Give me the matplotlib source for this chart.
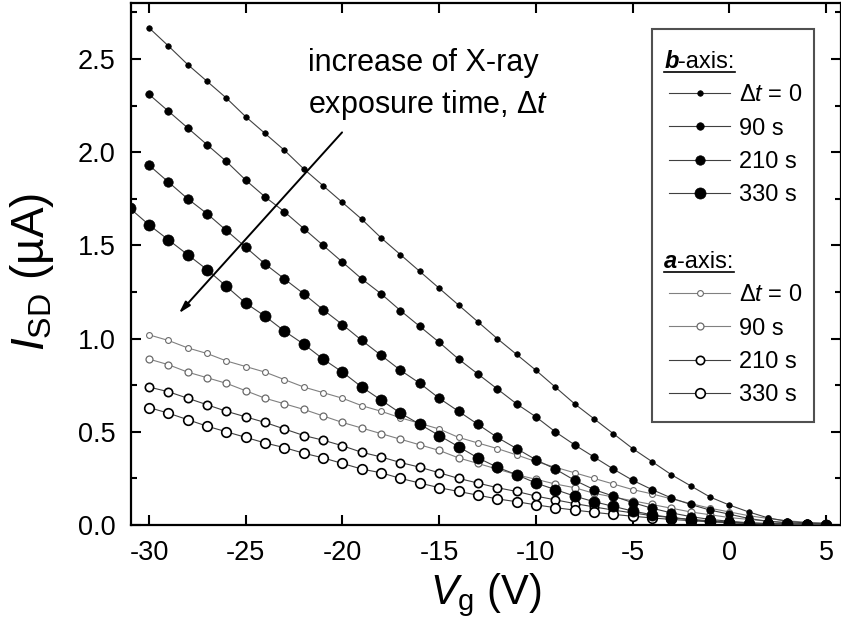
import matplotlib
matplotlib.use('Agg')
import matplotlib.pyplot as plt
from matplotlib.lines import Line2D
from matplotlib.patches import Rectangle
from matplotlib.transforms import IdentityTransform

plt.rcParams['font.family'] = ['Liberation Sans', 'DejaVu Sans']
plt.rcParams['mathtext.fontset'] = 'custom'
plt.rcParams['mathtext.rm'] = 'Liberation Sans'
plt.rcParams['mathtext.it'] = 'Liberation Sans:italic'
plt.rcParams['mathtext.bf'] = 'Liberation Sans:bold'
plt.rcParams['axes.unicode_minus'] = False

# gate voltage (V)
vg = list(range(-30, 6))
vg_b330 = list(range(-31, 6))

# b-axis, I_SD (uA)
b_0 = [2.667, 2.57, 2.47, 2.38, 2.29, 2.19, 2.10, 2.01, 1.91, 1.82, 1.73, 1.64,
       1.54, 1.45, 1.36, 1.27, 1.18, 1.09, 1.00, 0.915, 0.83, 0.74, 0.65, 0.57,
       0.49, 0.41, 0.34, 0.27, 0.21, 0.15, 0.107, 0.07, 0.038, 0.02, 0.01, 0.008]
b_90 = [2.31, 2.22, 2.13, 2.04, 1.95, 1.85, 1.76, 1.68, 1.59, 1.50, 1.41, 1.32,
        1.24, 1.15, 1.065, 0.98, 0.89, 0.81, 0.73, 0.65, 0.58, 0.50, 0.43, 0.365,
        0.30, 0.24, 0.19, 0.145, 0.11, 0.08, 0.058, 0.035, 0.02, 0.012, 0.008, 0.005]
b_210 = [1.93, 1.84, 1.75, 1.67, 1.58, 1.49, 1.40, 1.32, 1.24, 1.155, 1.075, 0.99,
         0.91, 0.83, 0.76, 0.68, 0.61, 0.54, 0.47, 0.41, 0.35, 0.30, 0.24, 0.19,
         0.155, 0.12, 0.09, 0.065, 0.045, 0.03, 0.02, 0.012, 0.008, 0.005, 0.003, 0.002]
b_330 = [1.70, 1.61, 1.53, 1.45, 1.37, 1.28, 1.19, 1.12, 1.04, 0.97, 0.89, 0.82,
         0.74, 0.67, 0.60, 0.54, 0.48, 0.42, 0.36, 0.31, 0.27, 0.225, 0.19, 0.155,
         0.125, 0.10, 0.075, 0.055, 0.04, 0.028, 0.02, 0.013, 0.008, 0.005, 0.003,
         0.002, 0.001]

# a-axis, I_SD (uA)
a_0 = [1.02, 0.99, 0.95, 0.92, 0.88, 0.85, 0.82, 0.78, 0.74, 0.71, 0.68, 0.64,
       0.61, 0.575, 0.545, 0.515, 0.47, 0.44, 0.41, 0.376, 0.34, 0.31, 0.28, 0.25,
       0.22, 0.19, 0.167, 0.14, 0.115, 0.09, 0.07, 0.05, 0.035, 0.022, 0.015, 0.01]
a_90 = [0.89, 0.86, 0.82, 0.79, 0.76, 0.72, 0.68, 0.65, 0.62, 0.585, 0.55, 0.52,
        0.49, 0.46, 0.43, 0.40, 0.36, 0.33, 0.30, 0.27, 0.245, 0.22, 0.20, 0.17,
        0.15, 0.13, 0.11, 0.09, 0.07, 0.055, 0.04, 0.03, 0.02, 0.012, 0.008, 0.005]
a_210 = [0.74, 0.715, 0.68, 0.645, 0.61, 0.58, 0.55, 0.515, 0.48, 0.455, 0.425, 0.39,
         0.365, 0.335, 0.31, 0.28, 0.25, 0.225, 0.20, 0.18, 0.155, 0.135, 0.115, 0.097,
         0.08, 0.065, 0.05, 0.04, 0.03, 0.022, 0.016, 0.011, 0.007, 0.004, 0.003, 0.002]
a_330 = [0.63, 0.60, 0.565, 0.53, 0.50, 0.47, 0.44, 0.415, 0.385, 0.36, 0.33, 0.30,
         0.28, 0.25, 0.225, 0.20, 0.18, 0.16, 0.14, 0.125, 0.108, 0.093, 0.08, 0.068,
         0.057, 0.047, 0.038, 0.03, 0.023, 0.017, 0.012, 0.008, 0.005, 0.003, 0.002, 0.001]

labels = [r'$\Delta t$ = 0', '90 s', '210 s', '330 s']

fig = plt.figure(figsize=(8.41, 6.32), dpi=100)
ax = fig.add_axes([131/841, 107/632, 710/841, 522/632])

# a-axis: open circles
a_styles = [(4.2, '#6a6a6a', 0.8, '#808080'),
            (5.0, '#6a6a6a', 0.9, '#808080'),
            (6.0, 'black', 1.2, '#404040'),
            (6.9, 'black', 1.2, '#404040')]
# b-axis: filled circles
b_sizes = [4.0, 5.4, 6.8, 8.0]

b_handles = []
for y, x, ms in zip([b_0, b_90, b_210, b_330], [vg, vg, vg, vg_b330], b_sizes):
    h, = ax.plot(x, y, '-o', color='#404040', lw=0.8, ms=ms, mfc='black',
                 mec='black', mew=0.5, zorder=3)
    b_handles.append(h)

a_handles = []
for y, (ms, ec, mew, lc) in zip([a_0, a_90, a_210, a_330], a_styles):
    h, = ax.plot(vg, y, '-o', color=lc, lw=0.8, ms=ms, mfc='white',
                 mec=ec, mew=mew, zorder=2)
    a_handles.append(h)

ax.set_xlim(-30.93, 5.77)
ax.set_ylim(0, 2.8)
ax.set_xticks(range(-30, 6, 5))
ax.set_yticks([0, 0.5, 1.0, 1.5, 2.0, 2.5])
ax.set_yticks([0.25, 0.75, 1.25, 1.75, 2.25, 2.75], minor=True)
ax.tick_params(which='both', direction='in', top=True, right=True, width=1.5,
               labelsize=19.5)
ax.tick_params(which='major', length=7)
ax.tick_params(which='minor', length=4)
ax.tick_params(axis='x', pad=11)
ax.tick_params(axis='y', pad=11)
for s in ax.spines.values():
    s.set_linewidth(1.6)

ax.set_xlabel(r'$V_{\rm g}$ (V)', fontsize=30)
ax.xaxis.set_label_coords(0.5, -0.088)
ax.set_ylabel(r'$I_{\rm SD}$ (µA)', fontsize=33)
ax.yaxis.set_label_coords(-0.105, 0.485)

ax.text(-21.78, 2.36, 'increase of X-ray\nexposure time, ' + r'$\Delta t$',
        fontsize=22, ha='left', va='center', linespacing=1.4)
ax.annotate('', xy=(-28.45, 1.136), xytext=(-20.02, 2.106),
            arrowprops=dict(arrowstyle='-|>,head_length=0.7,head_width=0.2',
                            color='black', lw=1.4, shrinkA=0, shrinkB=0))

# legend frame drawn as a plain box
ax.add_patch(Rectangle(((652 - 131) / 710, (525 - 422) / 522), 162 / 710, 393 / 522,
                       transform=ax.transAxes, facecolor='white',
                       edgecolor='#505050', lw=1.5, zorder=4.5, clip_on=False))

blank = Line2D([], [], linestyle='none')
handles = [blank] + b_handles + [blank, blank] + a_handles
leg_labels = [' '] + labels + [' ', ' '] + labels
leg = ax.legend(handles, leg_labels, loc='upper right',
                bbox_to_anchor=((802 - 131) / 710, (525 - 51) / 522),
                borderaxespad=0, borderpad=0, fontsize=17, numpoints=1,
                handlelength=2.6, handletextpad=0.35, labelspacing=0.48,
                frameon=False)

# headers of the legend groups: bold italic letter + "-axis:", underlined
fig.canvas.draw()
r = fig.canvas.get_renderer()
texts = leg.get_texts()
x_left = leg.legend_handles[1].get_window_extent(r).x0 - 2
for idx, letter in [(0, 'b'), (6, 'a')]:
    tb = texts[idx].get_window_extent(r)
    yc = (tb.y0 + tb.y1) / 2
    t1 = fig.text(x_left, yc, letter, transform=IdentityTransform(), fontsize=17,
                  fontweight='bold', style='italic', va='center', ha='left',
                  zorder=10)
    b1 = t1.get_window_extent(r)
    t2 = fig.text(b1.x1, yc, '-axis:', transform=IdentityTransform(), fontsize=17,
                  va='center', ha='left', zorder=10)
    b2 = t2.get_window_extent(r)
    uy = b1.y0 + 2
    fig.add_artist(Line2D([b1.x0, b2.x1], [uy, uy], transform=IdentityTransform(),
                          color='black', lw=1.2, zorder=10))

fig.savefig('out.png', dpi=100)
